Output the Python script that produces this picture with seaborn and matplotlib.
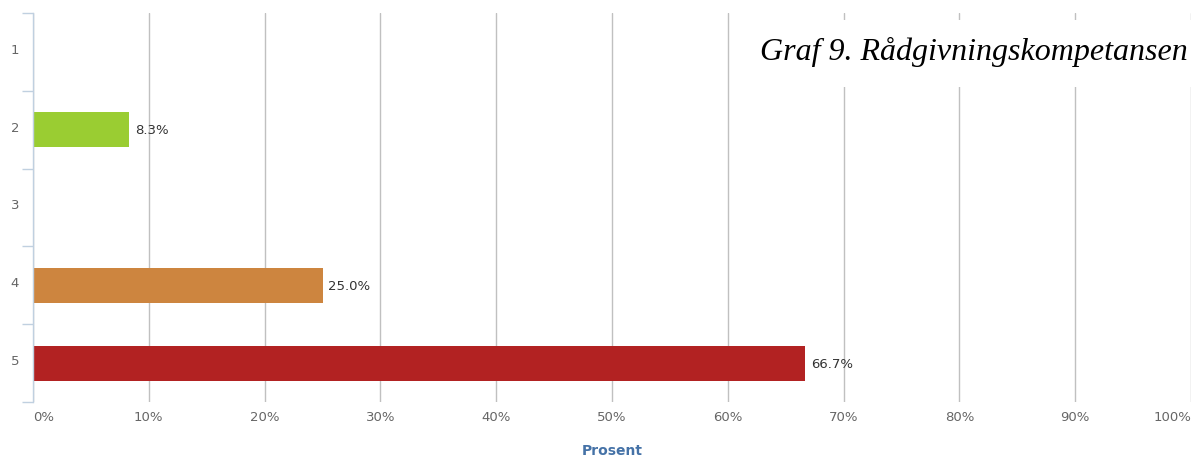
import matplotlib
matplotlib.use("Agg")
import matplotlib.pyplot as plt
import matplotlib.transforms as mtrans
from matplotlib.patches import Rectangle
import seaborn as sns
import pandas as pd

categories = ["1", "2", "3", "4", "5"]
values = [0.0, 8.3, 0.0, 25.0, 66.7]
bar_colors = ["#9ACD32", "#9ACD32", "#9ACD32", "#CD853F", "#B22222"]
x_ticks = [0, 10, 20, 30, 40, 50, 60, 70, 80, 90, 100]
x_tick_labels = [f"{t}%" for t in x_ticks]
title = "Graf 9. Rådgivningskompetansen"
x_label = "Prosent"

sns.set_theme(style="white")
plt.rcParams['font.family'] = ['DejaVu Sans']

df = pd.DataFrame({"cat": categories, "val": values})

fig = plt.figure(figsize=(11.96, 4.56), dpi=100)
W, H = 1196, 456
ax = fig.add_axes([33 / W, 1 - 403 / H, (1191 - 33) / W, (403 - 14) / H])

sns.barplot(data=df, x="val", y="cat", hue="cat", palette=bar_colors,
            order=categories, hue_order=categories, orient="h", saturation=1,
            width=0.45, legend=False, ax=ax, linewidth=0, zorder=3)

ax.set_xlim(0, 100)
ax.set_ylim(4.5, -0.5)

# grid
ax.set_xticks(x_ticks)
ax.set_xticklabels(x_tick_labels)
ax.grid(axis="x", color="#C0C0C0", linewidth=1.0, zorder=0)
ax.grid(axis="y", visible=False)
ax.set_axisbelow(True)
ax.tick_params(axis="x", length=0, pad=6, labelsize=9.5, labelcolor="#666666")
labs = ax.get_xticklabels()
labs[0].set_ha("left")
labs[-1].set_ha("right")

ax.set_yticks(range(len(categories)))
ax.set_yticklabels(categories)
ax.tick_params(axis="y", which="major", left=False, length=0, pad=10, labelsize=9.5, labelcolor="#666666")
ax.set_yticks([i - 0.5 for i in range(len(categories) + 1)], minor=True)
ax.tick_params(axis="y", which="minor", left=True, length=8, width=1, color="#C0D0E0")
shift = mtrans.ScaledTranslation(0, 4 / 100, fig.dpi_scale_trans)
for lab in ax.get_yticklabels():
    lab.set_transform(lab.get_transform() + shift)

for s in ["top", "right", "bottom"]:
    ax.spines[s].set_visible(False)
ax.spines["left"].set_color("#C0D0E0")
ax.spines["left"].set_linewidth(1)
ax.spines["left"].set_zorder(4)

ax.set_ylabel("")
ax.set_xlabel(x_label, fontsize=10, fontweight="bold", color="#4572A7", labelpad=14)

for i, v in enumerate(values):
    if v > 0:
        ax.annotate(f"{v:.1f}%", xy=(v, i), xytext=(4, 0), textcoords="offset points",
                    va="center", ha="left", fontsize=9.5, color="#333333", zorder=5)

# title box
fig.patches.append(Rectangle((748 / W, 1 - 88 / H), (W - 748) / W, (88 - 21) / H,
                             transform=fig.transFigure, facecolor="white",
                             edgecolor="none", zorder=5))
fig.text(1188 / W, 1 - 52 / H, title, ha="right", va="center",
         fontsize=23, style="italic", family=["Liberation Serif"], color="#000000", zorder=6)

fig.savefig("out.png", dpi=100)
